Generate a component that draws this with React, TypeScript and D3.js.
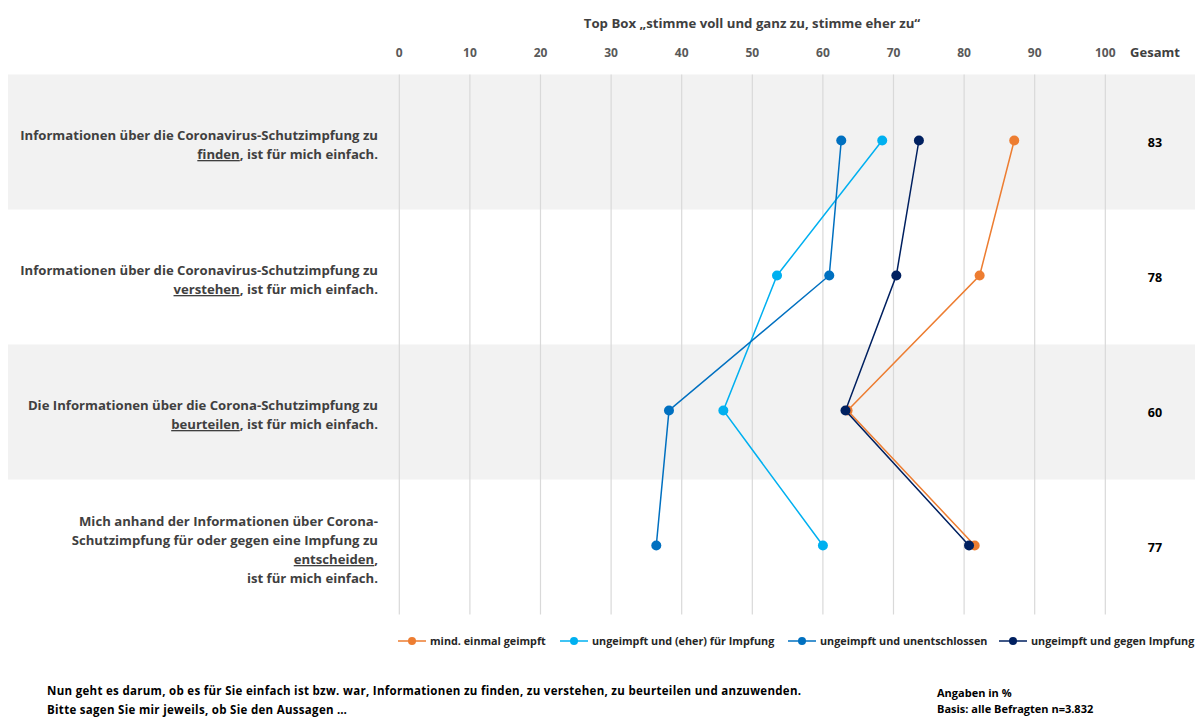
import * as d3 from "d3";

type Point = { row: number; value: number };

const statements: { lines: (string | { u: string; rest: string })[] }[] = [
  { lines: ["Informationen über die Coronavirus-Schutzimpfung zu", { u: "finden", rest: ", ist für mich einfach." }] },
  { lines: ["Informationen über die Coronavirus-Schutzimpfung zu", { u: "verstehen", rest: ", ist für mich einfach." }] },
  { lines: ["Die Informationen über die Corona-Schutzimpfung zu", { u: "beurteilen", rest: ", ist für mich einfach." }] },
  {
    lines: [
      "Mich anhand der Informationen über Corona-",
      "Schutzimpfung für oder gegen eine Impfung zu",
      { u: "entscheiden", rest: "," },
      "ist für mich einfach.",
    ],
  },
];

const totals = [83, 78, 60, 77];

const seriesNames = [
  "mind. einmal geimpft",
  "ungeimpft und (eher) für Impfung",
  "ungeimpft und unentschlossen",
  "ungeimpft und gegen Impfung",
];
const seriesColors = ["#ED7D31", "#00B0F0", "#0070C0", "#002060"];

const geimpft = [87.1, 82.2, 63.5, 81.5];
const eherFuer = [68.4, 53.5, 45.9, 60.0];
const unentschlossen = [62.6, 60.9, 38.2, 36.4];
const gegen = [73.6, 70.4, 63.2, 80.7];
const seriesValues = [geimpft, eherFuer, unentschlossen, gegen];

const ticks = [0, 10, 20, 30, 40, 50, 60, 70, 80, 90, 100];

const W = 1195;
const H = 718;
const FONT = "'Open Sans', Lato, sans-serif";

export default function App() {
  const x = d3.scaleLinear().domain([0, 100]).range([399.3, 1105.3]);
  const y = d3.scaleBand<number>().domain(d3.range(4)).range([74.5, 614.5]);
  const rowC = (i: number) => (y(i) ?? 0) + y.bandwidth() / 2;
  // markers sit a touch above the band centre
  const markY = (i: number) => rowC(i) - 1.5;

  const line = d3
    .line<Point>()
    .x((d) => x(d.value))
    .y((d) => markY(d.row));

  const legendX = [398, 560, 788, 999];

  return (
    <svg
      width={W}
      height={H}
      style={{ position: "absolute", left: 0, top: 0, background: "#fff" }}
      fontFamily={FONT}
      fontWeight="bold"
    >
      {/* bands */}
      {d3.range(4).map((i) =>
        i % 2 === 0 ? (
          <rect key={i} x={8} y={y(i)} width={W - 8} height={y.bandwidth()} fill="#F2F2F2" />
        ) : null
      )}
      {/* grid */}
      {ticks.map((t) => (
        <line key={t} x1={x(t)} x2={x(t)} y1={74.5} y2={614.5} stroke="#D9D9D9" strokeWidth={1.2} />
      ))}
      {/* title */}
      <text x={752} y={28} textAnchor="middle" fontSize={13.2} fill="#404040">
        Top Box „stimme voll und ganz zu, stimme eher zu“
      </text>
      {ticks.map((t) => (
        <text key={t} x={x(t)} y={57} textAnchor="middle" fontSize={12} fill="#595959">
          {t}
        </text>
      ))}
      <text x={1155} y={57} textAnchor="middle" fontSize={13} fill="#404040">
        Gesamt
      </text>

      {/* row labels */}
      {statements.map((s, i) => {
        const n = s.lines.length;
        const lh = 19;
        const start = rowC(i) + 3 - ((n - 1) * lh) / 2 + 4.5;
        return (
          <text key={i} textAnchor="end" fontSize={13.15} fill="#404040">
            {s.lines.map((l, j) =>
              typeof l === "string" ? (
                <tspan key={j} x={378} y={start + j * lh}>
                  {l}
                </tspan>
              ) : (
                <tspan key={j} x={378} y={start + j * lh}>
                  <tspan textDecoration="underline">{l.u}</tspan>
                  {l.rest}
                </tspan>
              )
            )}
          </text>
        );
      })}

      {/* totals */}
      {totals.map((t, i) => (
        <text key={i} x={1155} y={rowC(i) + 4.5} textAnchor="middle" fontSize={12.5} fill="#000">
          {t}
        </text>
      ))}

      {/* series */}
      {seriesValues.map((vals, s) => {
        const pts: Point[] = vals.map((v, i) => ({ row: i, value: v }));
        return (
          <g key={s}>
            <path d={line(pts) ?? ""} fill="none" stroke={seriesColors[s]} strokeWidth={1.5} />
            {pts.map((p, k) => (
              <circle key={k} cx={x(p.value)} cy={markY(p.row)} r={5} fill={seriesColors[s]} />
            ))}
          </g>
        );
      })}

      {/* legend */}
      {seriesNames.map((n, s) => (
        <g key={s} transform={`translate(${legendX[s]},641)`}>
          <line x1={0} x2={28} y1={0} y2={0} stroke={seriesColors[s]} strokeWidth={1.5} />
          <circle cx={14} cy={0} r={4} fill={seriesColors[s]} />
          <text x={32} y={3.8} fontSize={10.8} fill="#262626">
            {n}
          </text>
        </g>
      ))}

      {/* footer */}
      <text x={47} y={695} fontSize={11.5} fill="#000" letterSpacing={0.3}>
        Nun geht es darum, ob es für Sie einfach ist bzw. war, Informationen zu finden, zu verstehen, zu beurteilen und anzuwenden.
      </text>
      <text x={47} y={714} fontSize={11.5} fill="#000" letterSpacing={0.3}>
        Bitte sagen Sie mir jeweils, ob Sie den Aussagen …
      </text>
      <text x={937} y={697} fontSize={11} fill="#000">
        Angaben in %
      </text>
      <text x={937} y={713} fontSize={11} fill="#000">
        Basis: alle Befragten n=3.832
      </text>
    </svg>
  );
}
